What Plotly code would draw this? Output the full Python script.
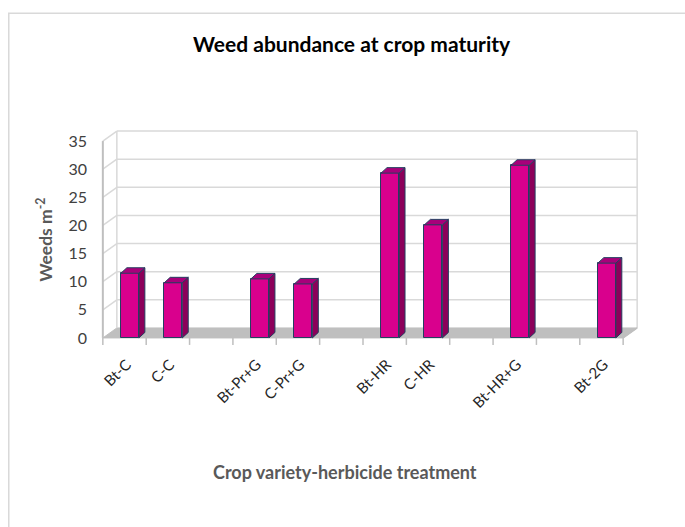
import plotly.graph_objects as go

# Treatments along the category axis (blank entries are spacer slots between groups)
categories = ["Bt-C", "C-C", "", "Bt-Pr+G", "C-Pr+G", "", "Bt-HR", "C-HR", "",
              "Bt-HR+G", "", "Bt-2G"]
weeds = [11.5, 9.8, None, 10.5, 9.6, None, 29.3, 20.1, None, 30.7, None, 13.3]
y_ticks = [0, 5, 10, 15, 20, 25, 30, 35]

W, H = 685, 527
PX, PY = 43.33, 5.63          # pixels per category slot / per weed unit
X0PX, Y0PX = 103, 338         # pixel position of slot 0 / value 0 on the front plane
XR = [-0.25, 12.55]
YR = [-2.5, 37.5]

l = X0PX + XR[0] * PX
w = (XR[1] - XR[0]) * PX
r = W - l - w
t = Y0PX - YR[1] * PY
h = (YR[1] - YR[0]) * PY
b = H - t - h


def px_x(px):
    return (px - l) / w


def px_y(py):
    return (t + h - py) / h


n = len(categories)
ymax = y_ticks[-1]
DXU, DYU = 14 / PX, 10 / PY      # depth of the walls/floor
BDX, BDY = 6 / PX, 5.5 / PY      # depth of each bar
BW, BL = 18 / PX, 18 / PX        # bar width and offset inside its slot

GRID = "#D9D9D9"
WALL = "#BFBFBF"
shapes = []

# floor
shapes.append(dict(type="path", xref="x", yref="y", layer="below",
                   path=f"M0,0 L{n},0 L{n + DXU},{DYU} L{DXU},{DYU} Z",
                   fillcolor="#BFBFBF", line=dict(color="#BFBFBF", width=1)))
# back wall gridlines
for v in y_ticks[1:]:
    shapes.append(dict(type="line", xref="x", yref="y", layer="below",
                       x0=DXU, x1=n + DXU, y0=v + DYU, y1=v + DYU,
                       line=dict(color=GRID, width=1.5)))
# left wall diagonals
for v in y_ticks[1:]:
    shapes.append(dict(type="line", xref="x", yref="y", layer="below",
                       x0=0, x1=DXU, y0=v, y1=v + DYU,
                       line=dict(color=GRID, width=1.5)))
# wall edges
shapes.append(dict(type="line", xref="x", yref="y", layer="below",
                   x0=0, x1=0, y0=0, y1=ymax, line=dict(color=WALL, width=2)))
shapes.append(dict(type="line", xref="x", yref="y", layer="below",
                   x0=DXU, x1=DXU, y0=DYU, y1=ymax + DYU, line=dict(color=GRID, width=1.5)))
shapes.append(dict(type="line", xref="x", yref="y", layer="below",
                   x0=n + DXU, x1=n + DXU, y0=DYU, y1=ymax + DYU, line=dict(color=GRID, width=1.5)))
shapes.append(dict(type="line", xref="x", yref="y", layer="below",
                   x0=n, x1=n + DXU, y0=0, y1=DYU, line=dict(color=WALL, width=1.5)))
# category tick marks
for i in range(n + 1):
    shapes.append(dict(type="line", xref="x", yref="y", layer="below",
                       x0=i, x1=i, y0=0, y1=-7 / PY, line=dict(color=WALL, width=1.5)))
# outer chart border
shapes.append(dict(type="rect", xref="paper", yref="paper", layer="below",
                   x0=px_x(9), x1=px_x(W + 10), y0=px_y(13), y1=px_y(H + 10),
                   line=dict(color="#D9D9D9", width=1.5), fillcolor="rgba(0,0,0,0)"))

idx = [i for i, v in enumerate(weeds) if v is not None]
vals = [weeds[i] for i in idx]
xl = [i + BL for i in idx]
xr = [x + BW for x in xl]

fig = go.Figure()
fig.add_trace(go.Bar(x=[x + BW / 2 for x in xl], y=vals, width=BW,
                     marker=dict(color="#D9008D", line=dict(color="#243F60", width=1)),
                     hoverinfo="skip", showlegend=False))

side_x, side_y, top_x, top_y = [], [], [], []
for a, c, v in zip(xl, xr, vals):
    side_x += [c, c + BDX, c + BDX, c, c, None]
    side_y += [0, BDY, v + BDY, v, 0, None]
    top_x += [a, c, c + BDX, a + BDX, a, None]
    top_y += [v, v, v + BDY, v + BDY, v, None]
fig.add_trace(go.Scatter(x=side_x, y=side_y, mode="lines", fill="toself",
                         fillcolor="#8C005A", line=dict(color="#243F60", width=1),
                         hoverinfo="skip", showlegend=False))
fig.add_trace(go.Scatter(x=top_x, y=top_y, mode="lines", fill="toself",
                         fillcolor="#A8007A", line=dict(color="#243F60", width=1),
                         hoverinfo="skip", showlegend=False))

labelled = [i for i, c in enumerate(categories) if c]

FONT = "Lato"
fig.update_layout(
    width=W, height=H,
    paper_bgcolor="white", plot_bgcolor="white",
    margin=dict(l=l, r=r, t=t, b=b, autoexpand=False),
    bargap=0,
    shapes=shapes,
    xaxis=dict(range=XR, showgrid=False, zeroline=False, showline=False,
               tickmode="array", tickvals=[i + 0.55 for i in labelled],
               ticktext=[categories[i] for i in labelled], tickangle=-45, ticks="",
               ticklabelstandoff=0,
               tickfont=dict(family=FONT, size=15, color="#262626")),
    yaxis=dict(range=YR, showgrid=False, zeroline=False, showline=False,
               tickmode="array", tickvals=y_ticks, ticks="",
               ticklabelstandoff=4,
               tickfont=dict(family=FONT, size=16, color="#404040")),
    annotations=[
        dict(text="<b>Weed abundance at crop maturity</b>", xref="paper", yref="paper",
             x=px_x(352), y=px_y(43), showarrow=False, xanchor="center", yanchor="middle",
             font=dict(family=FONT, size=21, color="black")),
        dict(text="<b>Weeds m<sup>-2</sup></b>", xref="paper", yref="paper",
             x=px_x(44), y=px_y(240), showarrow=False, textangle=-90,
             xanchor="center", yanchor="middle",
             font=dict(family=FONT, size=17.5, color="#595959")),
        dict(text="<b>Crop variety-herbicide treatment</b>", xref="paper", yref="paper",
             x=px_x(345), y=px_y(472), showarrow=False, xanchor="center", yanchor="middle",
             font=dict(family=FONT, size=18, color="#595959")),
    ],
)

fig.write_html("out.html")
